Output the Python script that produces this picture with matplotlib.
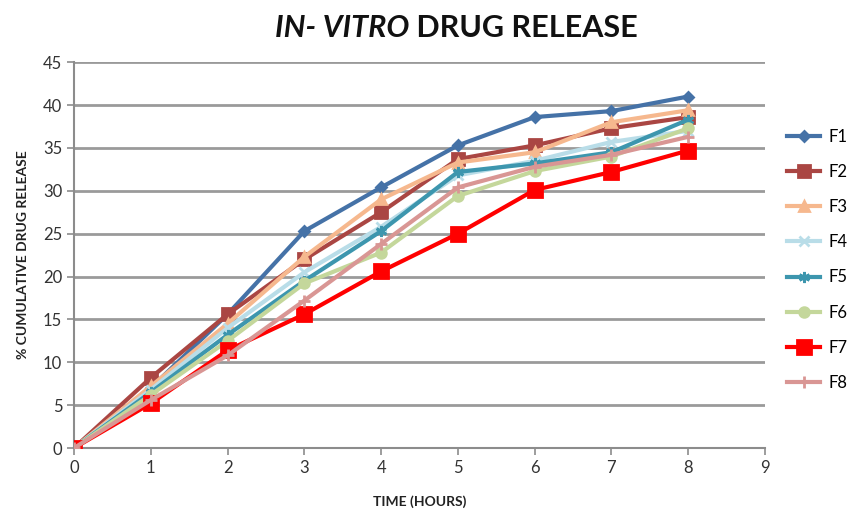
import matplotlib
matplotlib.use("Agg")
import matplotlib.pyplot as plt

hours = [0, 1, 2, 3, 4, 5, 6, 7, 8]
series_names = ["F1", "F2", "F3", "F4", "F5", "F6", "F7", "F8"]
f1 = [0, 7.0, 15.6, 25.3, 30.4, 35.3, 38.6, 39.3, 41.0]
f2 = [0, 8.2, 15.6, 22.0, 27.5, 33.7, 35.3, 37.3, 38.6]
f3 = [0, 7.2, 14.5, 22.3, 29.0, 33.3, 34.5, 38.0, 39.4]
f4 = [0, 6.8, 14.0, 20.5, 25.8, 31.8, 33.5, 35.7, 37.0]
f5 = [0, 6.5, 13.2, 19.5, 25.3, 32.2, 33.2, 34.5, 38.3]
f6 = [0, 6.2, 12.5, 19.2, 22.8, 29.4, 32.3, 34.0, 37.3]
f7 = [0, 5.2, 11.4, 15.6, 20.6, 25.0, 30.1, 32.2, 34.7]
f8 = [0, 5.6, 10.8, 17.2, 23.8, 30.4, 32.8, 34.2, 36.3]
values = [f1, f2, f3, f4, f5, f6, f7, f8]

colors = ["#4572A7", "#AA4643", "#F6B88E", "#B9DDE8", "#3D96AE", "#C4D79B", "#FF0000", "#D99694"]
markers = ["D", "s", "^", "x", (6, 2, 0), "o", "s", "+"]
msizes = [5, 9, 7, 7, 8, 7, 10, 8]

fig = plt.figure(figsize=(8.53, 5.13), dpi=100)
ax = fig.add_axes([0.0868, 0.1267, 0.810, 0.752])

for name, vals, c, m, ms in zip(series_names, values, colors, markers, msizes):
    ax.plot(hours, vals, color=c, marker=m, markersize=ms, lw=3,
            markeredgecolor=c, markeredgewidth=2, label=name, zorder=3)

ax.set_xlim(0, 9)
ax.set_ylim(0, 45)
ax.set_xticks(range(0, 10))
ax.set_yticks(range(0, 50, 5))
ax.grid(axis="y", color="#9a9a9a", lw=2)
ax.set_axisbelow(True)
for side in ["top", "right"]:
    ax.spines[side].set_visible(False)
for side in ["left", "bottom"]:
    ax.spines[side].set_color("#8c8c8c")
    ax.spines[side].set_linewidth(1.5)
ax.tick_params(colors="#8c8c8c", labelcolor="#333333", labelsize=12, length=5, width=1.2)
ax.tick_params(axis="y", direction="out")
for lab in ax.get_xticklabels() + ax.get_yticklabels():
    lab.set_family("Lato")

ax.set_xlabel("TIME (HOURS)", fontsize=10, fontweight="bold", family="Lato", color="#222222", labelpad=14)
ax.set_ylabel("% CUMULATIVE DRUG RELEASE", fontsize=10, fontweight="bold", family="Lato", color="#222222", labelpad=10)

ax.legend(loc="upper left", bbox_to_anchor=(1.022, 0.845), borderaxespad=0, frameon=False,
          handlelength=2.0, handletextpad=0.5, labelspacing=1.15,
          prop={"family": "Lato", "size": 12})

# title with italic part
fig.canvas.draw()
r = fig.canvas.get_renderer()
t1 = fig.text(0, 0.945, "IN- VITRO", fontsize=22, fontweight="bold", style="italic",
              family="Lato", va="center", color="#111111")
t2 = fig.text(0, 0.945, " DRUG RELEASE", fontsize=22, fontweight="bold",
              family="Lato", va="center", color="#111111")
w1 = t1.get_window_extent(r).width / fig.bbox.width
w2 = t2.get_window_extent(r).width / fig.bbox.width
x0 = 0.535 - (w1 + w2) / 2
t1.set_x(x0)
t2.set_x(x0 + w1)

fig.savefig("out.png", dpi=100)
